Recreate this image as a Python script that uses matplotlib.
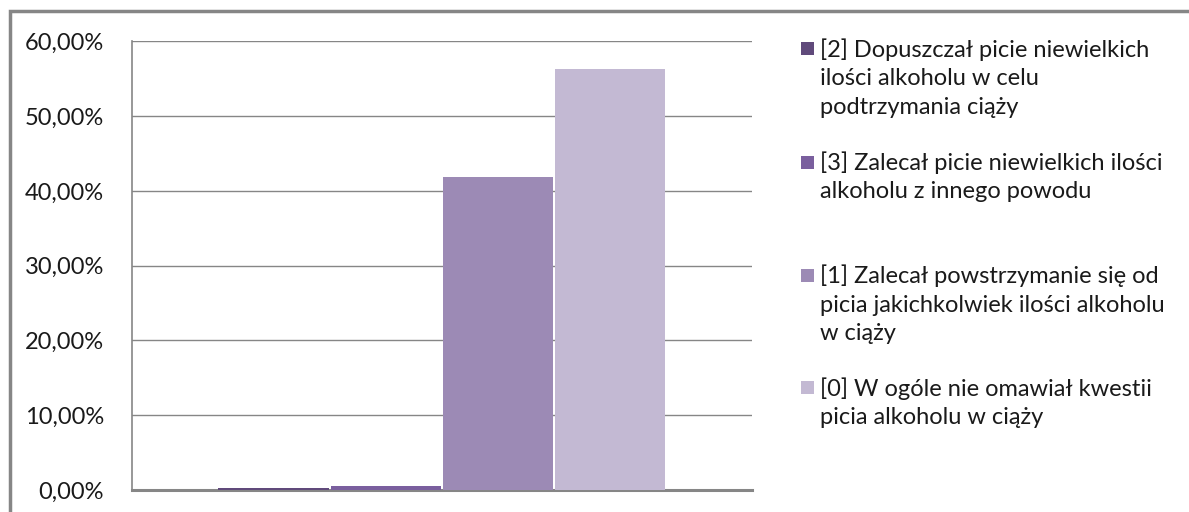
import matplotlib
matplotlib.use("Agg")
import matplotlib.pyplot as plt
from matplotlib.patches import Rectangle
from matplotlib.ticker import FuncFormatter
import numpy as np

plt.rcParams['font.family'] = ['Lato', 'DejaVu Sans']

series_labels = [
    "[2] Dopuszczał picie niewielkich\nilości alkoholu w celu\npodtrzymania ciąży",
    "[3] Zalecał picie niewielkich ilości\nalkoholu z innego powodu",
    "[1] Zalecał powstrzymanie się od\npicia jakichkolwiek ilości alkoholu\nw ciąży",
    "[0] W ogóle nie omawiał kwestii\npicia alkoholu w ciąży",
]
values = [0.003, 0.006, 0.419, 0.563]
colors = ["#604A7B", "#7A5F9E", "#9C8AB5", "#C3B9D3"]
yticks = [0.0, 0.1, 0.2, 0.3, 0.4, 0.5, 0.6]

W, H = 1189, 512
fig = plt.figure(figsize=(W / 100, H / 100), dpi=100)
ax = fig.add_axes([132 / W, 1 - 490 / H, (751.7 - 132) / W, (490 - 41.3) / H])

bw = 0.1812
n = len(values)
for i, (v, c, lab) in enumerate(zip(values, colors, series_labels)):
    ax.bar((i - (n - 1) / 2) * bw, v, width=bw * 0.982, color=c, linewidth=0,
           zorder=3, label=lab)

ax.set_xlim(-0.5, 0.5)
ax.set_ylim(0, 0.6)
ax.set_yticks(yticks)
ax.yaxis.set_major_formatter(FuncFormatter(lambda v, p: f"{v*100:.2f}%".replace(".", ",")))
ax.set_xticks([])
ax.tick_params(axis="y", length=0, pad=20, labelsize=17, labelcolor="#1a1a1a")
ax.grid(axis="y", color="#868686", linewidth=1.0, zorder=0)
ax.set_axisbelow(True)
for s in ["top", "right"]:
    ax.spines[s].set_visible(False)
ax.spines["left"].set_color("#868686")
ax.spines["left"].set_linewidth(1.2)
ax.spines["bottom"].set_color("#868686")
ax.spines["bottom"].set_linewidth(2.2)
ax.spines["bottom"].set_zorder(1)

# outer chart frame (right and bottom edges lie outside the image)
fig.add_artist(Rectangle((10 / W, -0.2), 1.2, 1.2 - 11 / H, transform=fig.transFigure,
                         fill=False, edgecolor="#868686", linewidth=2.5))

# legend
first_line_y = [48.7, 162.0, 275.0, 387.5]
line_step = 28.5
for lab, c, yy in zip(series_labels, colors, first_line_y):
    fig.add_artist(Rectangle((801 / W, 1 - (yy + 6.5) / H), 13 / W, 13 / H,
                             transform=fig.transFigure, facecolor=c, edgecolor="none"))
    for k, line in enumerate(lab.split("\n")):
        fig.text(820 / W, 1 - (yy + 8 + k * line_step) / H, line, ha="left",
                 va="baseline", fontsize=17, color="#1a1a1a")

fig.savefig("out.png", dpi=100, facecolor="white")
